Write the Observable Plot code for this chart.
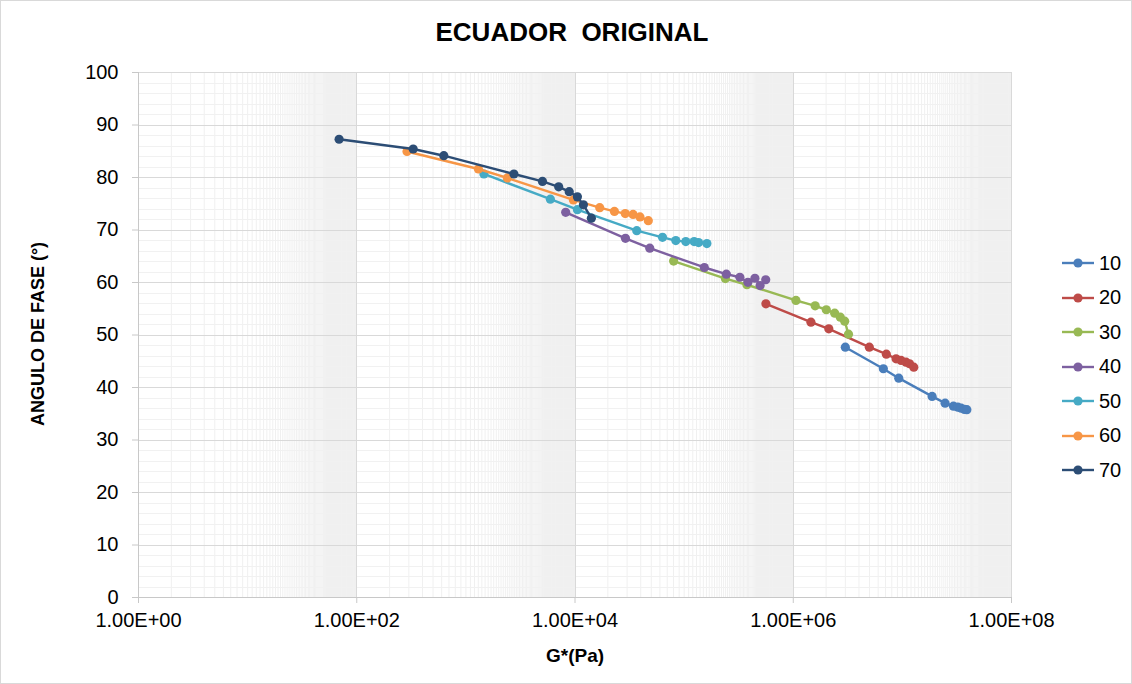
<!DOCTYPE html>
<html>
<head>
<meta charset="utf-8">
<script src="https://cdn.jsdelivr.net/npm/d3@7"></script>
<script src="https://cdn.jsdelivr.net/npm/@observablehq/plot@0.6"></script>
<style>
  body { margin: 0; background: #fff; font-family: "Liberation Sans", Arial, sans-serif; }
  #wrap { position: relative; width: 1132px; height: 684px; overflow: hidden; background: #fff; }
  #chart { position: absolute; left: 0; top: 0; }
  .title { position: absolute; left: 0; width: 1144px; top: 17px; text-align: center; font-weight: bold; font-size: 26px; color: #000; }
  .xlab { position: absolute; left: 475px; width: 200px; top: 645px; text-align: center; font-weight: bold; font-size: 19px; color: #000; }
  .ylab { position: absolute; left: 38px; top: 334px; transform: translate(-50%, -50%) rotate(-90deg); white-space: nowrap; font-weight: bold; font-size: 18px; color: #000; }
  .legend { position: absolute; left: 1062px; top: 246px; }
  .item { height: 34.5px; display: flex; align-items: center; font-size: 20px; color: #000; }
  .item svg { margin-right: 5px; }
  .border { position: absolute; left: 0; top: 0; width: 1130px; height: 682px; border: 1px solid #d9d9d9; pointer-events: none; }
</style>
</head>
<body>
<div id="wrap">
  <div id="chart"></div>
  <div class="title">ECUADOR&nbsp; ORIGINAL</div>
  <div class="ylab">ANGULO DE FASE (°)</div>
  <div class="xlab">G*(Pa)</div>
  <div class="legend" id="legend"></div>
  <div class="border"></div>
</div>
<script>
// ---- data ----
const seriesNames = ["10", "20", "30", "40", "50", "60", "70"];
const seriesColors = ["#4A7EBB", "#BE4B48", "#98B954", "#7D60A0", "#46AAC5", "#F79646", "#2C4D75"];

const g10 = [3000000, 6694000, 9268000, 18730000, 24640000, 29380000, 32240000, 34560000, 37050000, 38980000];
const a10 = [47.68, 43.57, 41.78, 38.30, 37.02, 36.45, 36.26, 36.07, 35.83, 35.77];

const g20 = [561700, 1453000, 2117000, 4980000, 7133000, 8752000, 9728000, 10810000, 11640000, 12720000];
const a20 = [55.94, 52.44, 51.18, 47.68, 46.35, 45.47, 45.15, 44.82, 44.52, 43.87];

const g30 = [80130, 238800, 376100, 1059000, 1588000, 2008000, 2398000, 2699000, 2961000, 3209000];
const a30 = [64.08, 60.75, 59.57, 56.58, 55.56, 54.81, 54.15, 53.39, 52.63, 50.15];

const g40 = [8217, 29000, 48460, 153200, 243900, 324300, 384100, 445300, 496900, 559400];
const a40 = [73.36, 68.42, 66.53, 62.86, 61.59, 61.00, 60.03, 60.81, 59.42, 60.52];

const g50 = [1463, 5947, 10520, 36810, 63390, 83930, 103600, 123500, 135600, 161600];
const a50 = [80.67, 75.88, 73.88, 69.88, 68.61, 67.98, 67.79, 67.79, 67.60, 67.41];

const g60 = [288.8, 1302, 2398, 9668, 16850, 22980, 28880, 34050, 39390, 46950];
const a60 = [84.95, 81.62, 79.91, 75.72, 74.26, 73.54, 73.12, 72.96, 72.49, 71.78];

const g70 = [68.9, 329, 628, 2755, 5035, 7088, 8850, 10520, 11940, 14130];
const a70 = [87.29, 85.43, 84.15, 80.67, 79.26, 78.22, 77.30, 76.31, 74.79, 72.26];

const xTicks = [1, 1e2, 1e4, 1e6, 1e8];
const yTicks = [0, 10, 20, 30, 40, 50, 60, 70, 80, 90, 100];

// ---- build table ----
const gs = [g10, g20, g30, g40, g50, g60, g70];
const as = [a10, a20, a30, a40, a50, a60, a70];
const data = [];
seriesNames.forEach((s, i) => gs[i].forEach((g, j) => data.push({s, g, a: as[i][j]})));

// minor grid (log base 100 axis: minor at k * major, k = 2..99)
const minorX = [];
for (let n = 0; n < xTicks.length - 1; n++) {
  for (let k = 2; k < 100; k++) minorX.push(k * xTicks[n]);
}
const lowerMajors = xTicks.slice(0, -1);
const minorY = d3.range(0, 100.001, 2).filter(v => v % 10 !== 0);

const fmtX = d => "1.00E+" + String(Math.round(Math.log10(d))).padStart(2, "0");

const marks = [
  // where minor lines merge (k >= 50) they render as a solid light band
  Plot.rect(lowerMajors, {x1: d => 50 * d, x2: d => 100 * d, y1: () => 0, y2: () => 100, fill: "#f2f2f2"}),
  Plot.ruleX(minorX, {stroke: "#f0f0f0", strokeWidth: 1}),
  Plot.ruleY(minorY, {stroke: "#f1f1f1", strokeWidth: 1, shapeRendering: "crispEdges"}),
  Plot.ruleX(xTicks, {stroke: "#d9d9d9", strokeWidth: 1, shapeRendering: "crispEdges"}),
  Plot.ruleY(yTicks, {stroke: "#d9d9d9", strokeWidth: 1, shapeRendering: "crispEdges"}),
  Plot.ruleY([0], {stroke: "#c8c8c8", strokeWidth: 1, shapeRendering: "crispEdges"}),
  Plot.ruleX([1], {stroke: "#c8c8c8", strokeWidth: 1, shapeRendering: "crispEdges"}),
  Plot.axisX(xTicks, {tickFormat: fmtX, tickSize: 6, tickPadding: 9, stroke: "#c8c8c8", fill: "#000", fontSize: 20, label: null}),
  Plot.axisY(yTicks, {tickSize: 6, tickPadding: 14, stroke: "#c8c8c8", fill: "#000", fontSize: 20, label: null})
];
seriesNames.forEach(s => {
  const sub = data.filter(d => d.s === s);
  marks.push(Plot.line(sub, {x: "g", y: "a", stroke: "s", strokeWidth: 2.4}));
  marks.push(Plot.dot(sub, {x: "g", y: "a", fill: "s", r: 4.6}));
});

const chart = Plot.plot({
  width: 1132,
  height: 684,
  marginLeft: 138,
  marginRight: 121,
  marginTop: 72,
  marginBottom: 87,
  style: {fontFamily: "Liberation Sans, Arial, sans-serif", fontSize: "20px", background: "transparent", color: "#000"},
  x: {type: "log", domain: [1, 1e8]},
  y: {domain: [0, 100]},
  color: {domain: seriesNames, range: seriesColors},
  marks
});
document.getElementById("chart").appendChild(chart);

// ---- legend ----
const leg = document.getElementById("legend");
seriesNames.forEach((s, i) => {
  const div = document.createElement("div");
  div.className = "item";
  div.innerHTML = `<svg width="32" height="12"><line x1="0" y1="6" x2="32" y2="6" stroke="${seriesColors[i]}" stroke-width="2.4"/><circle cx="16" cy="6" r="4.6" fill="${seriesColors[i]}"/></svg><span>${s}</span>`;
  leg.appendChild(div);
});
</script>
</body>
</html>
